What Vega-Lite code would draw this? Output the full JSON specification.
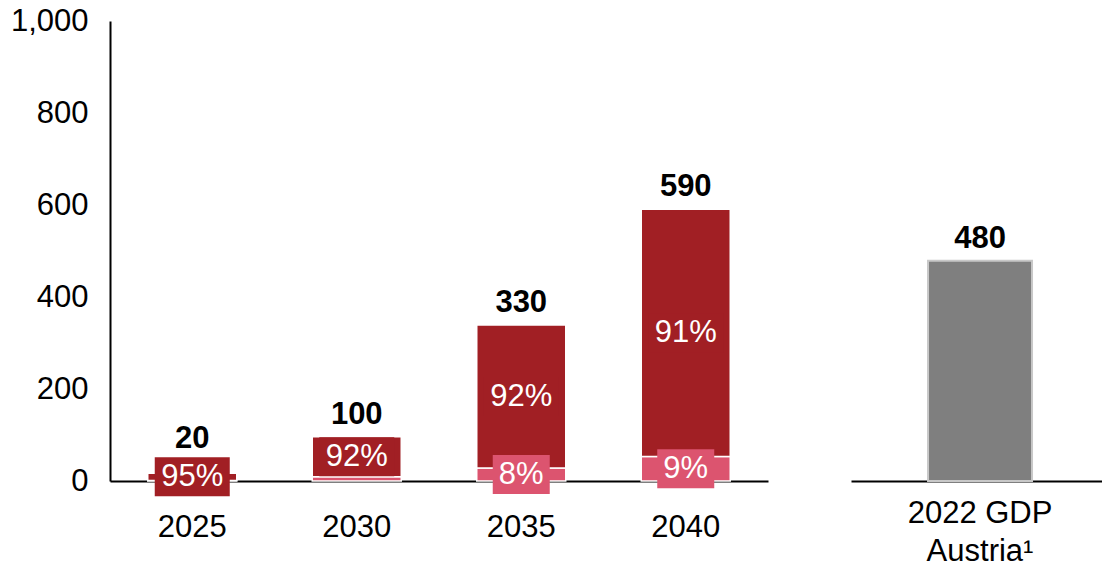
{
  "$schema": "https://vega.github.io/schema/vega-lite/v6.json",
  "background": "white",
  "padding": {"left": 10, "top": 5, "right": 0, "bottom": 0},
  "spacing": 83,
  "config": {
    "view": {"stroke": null},
    "font": "Liberation Sans",
    "axis": {
      "domainColor": "#000000",
      "domainWidth": 2,
      "ticks": false,
      "tickSize": 0,
      "grid": false,
      "labelFont": "Liberation Sans",
      "labelFontSize": 31,
      "labelColor": "#000000",
      "title": null
    }
  },
  "datasets": {
    "segs": [
      {"year": "2025", "seg": "pink", "ord": 1, "value": 1, "pct": "", "total": ""},
      {"year": "2025", "seg": "dark", "ord": 2, "value": 16, "pct": "95%", "total": "20"},
      {"year": "2030", "seg": "pink", "ord": 1, "value": 9, "pct": "", "total": ""},
      {"year": "2030", "seg": "dark", "ord": 2, "value": 87, "pct": "92%", "total": "100"},
      {"year": "2035", "seg": "pink", "ord": 1, "value": 28, "pct": "8%", "total": ""},
      {"year": "2035", "seg": "dark", "ord": 2, "value": 311, "pct": "92%", "total": "330"},
      {"year": "2040", "seg": "pink", "ord": 1, "value": 53, "pct": "9%", "total": ""},
      {"year": "2040", "seg": "dark", "ord": 2, "value": 538, "pct": "91%", "total": "590"}
    ],
    "gdp": [
      {"cat": "2022 GDP|Austria¹", "value": 479, "total": "480"}
    ]
  },
  "hconcat": [
    {
      "width": 658,
      "height": 460,
      "data": {"name": "segs"},
      "transform": [
        {"stack": "value", "groupby": ["year"], "sort": [{"field": "ord", "order": "ascending"}], "as": ["v0", "v1"]},
        {"calculate": "(datum.v0 + datum.v1) / 2", "as": "mid"}
      ],
      "encoding": {
        "x": {
          "field": "year",
          "type": "nominal",
          "scale": {"type": "band", "paddingInner": 0.459, "paddingOuter": 0.2295},
          "axis": {"labelAngle": 0, "labelPadding": 31}
        }
      },
      "layer": [
        {
          "mark": {"type": "bar", "stroke": "white", "strokeWidth": 1.5},
          "encoding": {
            "y": {
              "field": "v0",
              "type": "quantitative",
              "scale": {"domain": [0, 1000], "nice": false},
              "axis": {"values": [0, 200, 400, 600, 800, 1000], "format": ",.0f", "labelPadding": 22}
            },
            "y2": {"field": "v1"},
            "color": {
              "field": "seg",
              "type": "nominal",
              "scale": {"domain": ["pink", "dark"], "range": ["#DC546F", "#A11F24"]},
              "legend": null
            }
          }
        },
        {
          "transform": [{"filter": "datum.seg == 'dark' && datum.pct != ''"}],
          "mark": {"type": "point", "filled": true, "opacity": 1, "strokeWidth": 0, "shape": "M-1,-0.52H1V0.52H-1Z", "size": 5625, "color": "#A11F24"},
          "encoding": {
            "y": {"field": "mid", "type": "quantitative"}
          }
        },
        {
          "transform": [{"filter": "datum.seg == 'pink' && datum.pct != ''"}],
          "mark": {"type": "point", "filled": true, "opacity": 1, "strokeWidth": 0, "shape": "M-1,-0.684H1V0.684H-1Z", "size": 3249, "color": "#DC546F"},
          "encoding": {
            "y": {"field": "mid", "type": "quantitative"}
          }
        },
        {
          "transform": [{"filter": "datum.pct != ''"}],
          "mark": {"type": "text", "color": "white", "fontSize": 31, "baseline": "middle", "align": "center"},
          "encoding": {
            "y": {"field": "mid", "type": "quantitative"},
            "text": {"field": "pct"}
          }
        },
        {
          "transform": [{"filter": "datum.seg == 'dark' && datum.year != '2025'"}],
          "mark": {"type": "text", "color": "black", "fontSize": 31, "fontWeight": "bold", "baseline": "middle", "align": "center", "dy": -22},
          "encoding": {
            "y": {"field": "v1", "type": "quantitative"},
            "text": {"field": "total"}
          }
        },
        {
          "transform": [{"filter": "datum.seg == 'dark' && datum.year == '2025'"}],
          "mark": {"type": "text", "color": "black", "fontSize": 31, "fontWeight": "bold", "baseline": "middle", "align": "center", "dy": -34},
          "encoding": {
            "y": {"field": "v1", "type": "quantitative"},
            "text": {"field": "total"}
          }
        }
      ]
    },
    {
      "width": 251,
      "height": 460,
      "data": {"name": "gdp"},
      "encoding": {
        "x": {
          "field": "cat",
          "type": "nominal",
          "scale": {"type": "band", "paddingInner": 0, "paddingOuter": 0.7067, "align": 0.524},
          "axis": {"labelAngle": 0, "labelPadding": 17.5, "labelLineHeight": 38, "labelExpr": "split(datum.label, '|')"}
        },
        "y": {
          "field": "value",
          "type": "quantitative",
          "scale": {"domain": [0, 1000], "nice": false},
          "axis": null
        }
      },
      "layer": [
        {
          "mark": {"type": "bar", "color": "#7F7F7F", "stroke": "#C8C8C8", "strokeWidth": 2}
        },
        {
          "mark": {"type": "text", "color": "black", "fontSize": 31, "fontWeight": "bold", "baseline": "middle", "align": "center", "dy": -22},
          "encoding": {"text": {"field": "total"}}
        }
      ]
    }
  ]
}
